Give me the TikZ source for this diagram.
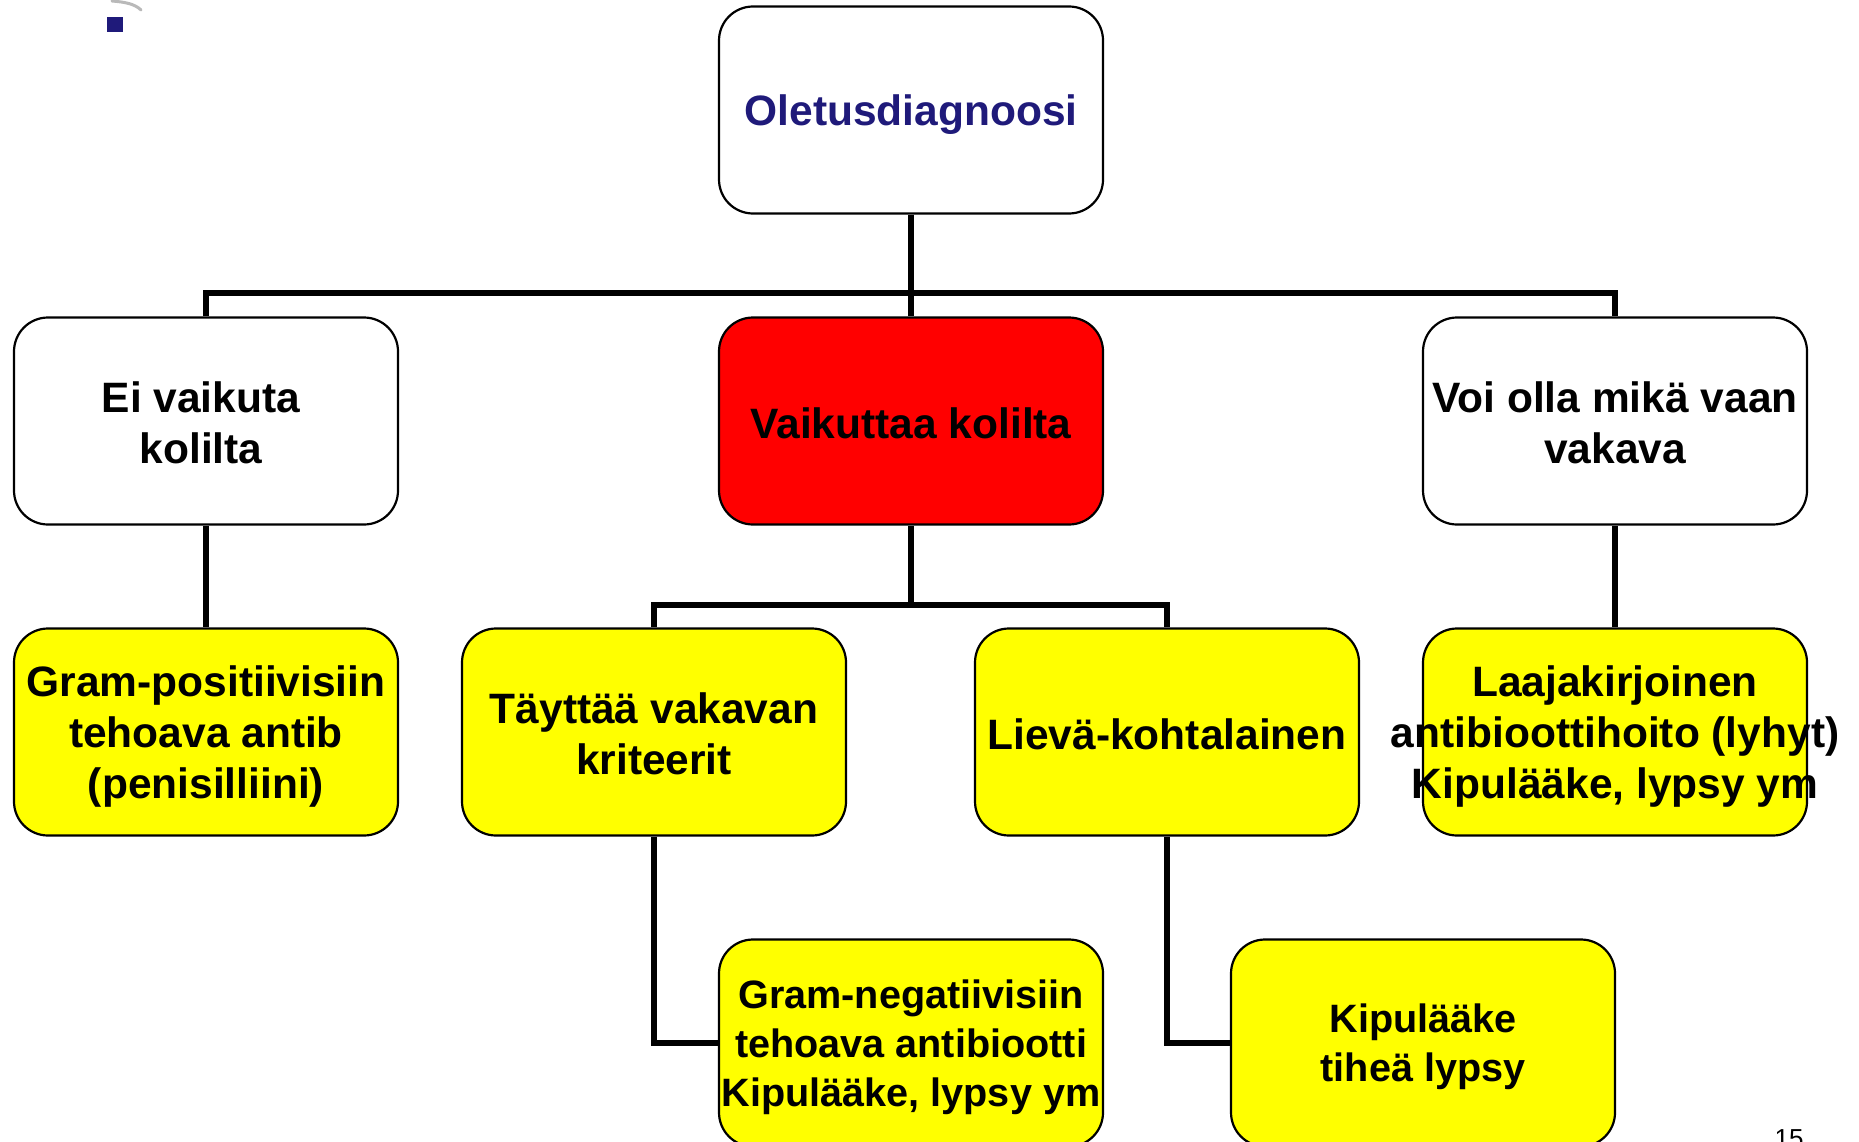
\documentclass[tikz,border=0pt]{standalone}
\usepackage{fontspec}
\setmainfont{Liberation Sans}
\definecolor{navy}{RGB}{31,26,122}
\definecolor{hiyellow}{RGB}{255,255,0}
\definecolor{hired}{RGB}{255,0,0}
\begin{document}
\begin{tikzpicture}[x=1pt,y=-1pt,
  box/.style={draw=black, line width=2.2pt, rounded corners=34pt,
    minimum width=384pt, minimum height=207pt, inner sep=0pt, fill=white},
  yel/.style={box, fill=hiyellow},
  txt/.style={inner sep=0pt, align=center, yshift=-2pt,
    font=\fontsize{42.5}{51}\selectfont\bfseries},
  smalltxt/.style={txt, yshift=-2pt,
    font=\fontsize{39.6}{49}\selectfont\bfseries},
  wire/.style={line width=5.5pt}]
\useasboundingbox (0,0) rectangle (1859,1142);
\clip (0,0) rectangle (1859,1142);
\fill[white] (0,0) rectangle (1859,1142);

% logo fragment
\fill[navy] (107,17) rectangle (123,32);
\draw[gray!55, line width=3pt, line cap=round] (112,1) .. controls (125,2) and (135,4) .. (141,10);

% boxes
\node[box] (top) at (911,110) {};
\node[box] (ei) at (206,421) {};
\node[box, fill=hired] (vaik) at (911,421) {};
\node[box] (voi) at (1615,421) {};
\node[yel] (gpos) at (206,732) {};
\node[yel] (tayt) at (654,732) {};
\node[yel] (liev) at (1167,732) {};
\node[yel] (laaja) at (1615,732) {};
\node[yel] (gneg) at (911,1043) {};
\node[yel] (kipu) at (1423,1043) {};

% texts
\node[txt, text=navy, yshift=-3pt] (topt) at (top.center) {Oletusdiagnoosi};
\node[txt, xshift=-5pt] (eit) at (ei.center) {Ei vaikuta\\kolilta};
\node[txt] (vaikt) at (vaik.center) {Vaikuttaa kolilta};
\node[txt] (voit) at (voi.center) {Voi olla mikä vaan\\vakava};
\node[txt, yshift=-3pt] (gpost) at (gpos.center) {Gram-positiivisiin\\tehoava antib\\(penisilliini)};
\node[txt] (taytt) at (tayt.center) {Täyttää vakavan\\kriteerit};
\node[txt] (lievt) at (liev.center) {Lievä-kohtalainen};
\node[txt, yshift=-3pt] (laajat) at (laaja.center) {Laajakirjoinen\\antibioottihoito (lyhyt)\\Kipulääke, lypsy ym};
\node[smalltxt] (gnegt) at (gneg.center) {Gram-negatiivisiin\\tehoava antibiootti\\Kipulääke, lypsy ym};
\node[smalltxt] (kiput) at (kipu.center) {Kipulääke\\tiheä lypsy};

% connectors
\coordinate (b1) at (911,293);
\coordinate (b2) at (911,605);
\draw[wire] (top.south) -- (vaik.north);
\draw[wire] (ei.north) |- (b1) -| (voi.north);
\draw[wire] (ei.south) -- (gpos.north);
\draw[wire] (voi.south) -- (laaja.north);
\draw[wire] (vaik.south) -- (b2);
\draw[wire] (tayt.north) |- (b2) -| (liev.north);
\draw[wire] (tayt.south) |- (gneg.west);
\draw[wire] (liev.south) |- (kipu.west);

% page number
\node[inner sep=0pt, anchor=base, font=\fontsize{26}{30}\selectfont] (pnum) at (1789,1147) {15};
\end{tikzpicture}
\end{document}
